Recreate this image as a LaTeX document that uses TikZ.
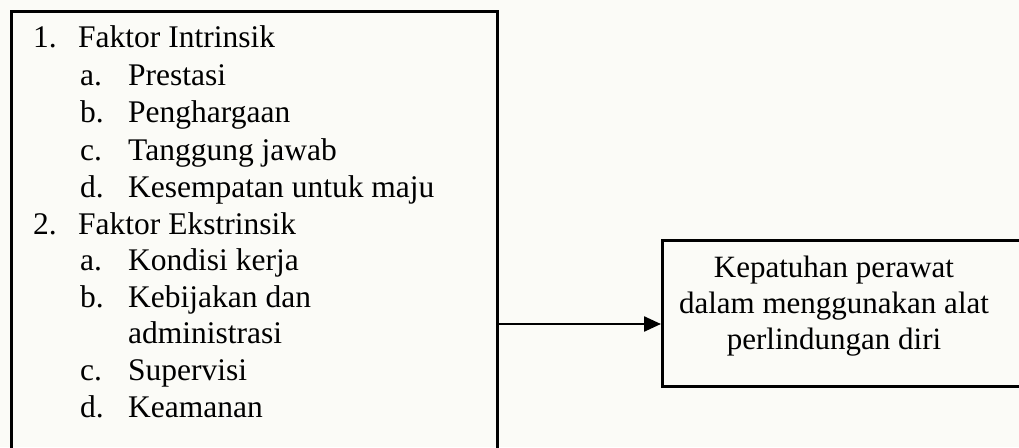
\documentclass[tikz,border=0pt]{standalone}
\usepackage{fontspec}
\setmainfont{Liberation Serif}
\usetikzlibrary{arrows.meta}
\definecolor{paper}{RGB}{251,251,247}
\tikzset{
  frame/.style={draw=black, line width=2.6pt, rectangle, inner sep=0pt, anchor=north west},
  lbl/.style={anchor=base west, inner sep=0pt, font=\fontsize{31.5}{37}\selectfont},
  ctr/.style={anchor=base, inner sep=0pt, font=\fontsize{31}{37}\selectfont},
  link/.style={draw=black, line width=2.4pt, -{Triangle[length=17pt,width=15pt]}}
}
\begin{document}
\begin{tikzpicture}[x=1pt,y=-1pt]
\useasboundingbox (0,0) rectangle (1019,447);
\fill[paper] (0,0) rectangle (1019,447);
\clip (0,0) rectangle (1019,447);

% factor list box (runs past the lower edge)
\node[frame, minimum width=486pt, minimum height=470pt] (factors) at (10,10) {};
% outcome box
\node[frame, minimum width=370pt, minimum height=146pt] (outcome) at (661,239) {};

% list entries
\node[lbl] (n1)  at (33,47)  {1.};
\node[lbl] (t1)  at (78,47)  {Faktor Intrinsik};
\node[lbl] (n1a) at (80,85)  {a.};
\node[lbl] (t1a) at (128,85) {Prestasi};
\node[lbl] (n1b) at (80,122) {b.};
\node[lbl] (t1b) at (128,122) {Penghargaan};
\node[lbl] (n1c) at (80,160) {c.};
\node[lbl] (t1c) at (128,160) {Tanggung jawab};
\node[lbl] (n1d) at (80,197) {d.};
\node[lbl] (t1d) at (128,197) {Kesempatan untuk maju};
\node[lbl] (n2)  at (33,234) {2.};
\node[lbl] (t2)  at (78,234) {Faktor Ekstrinsik};
\node[lbl] (n2a) at (80,270) {a.};
\node[lbl] (t2a) at (128,270) {Kondisi kerja};
\node[lbl] (n2b) at (80,307) {b.};
\node[lbl] (t2b) at (128,307) {Kebijakan dan};
\node[lbl] (t2b2) at (128,343) {administrasi};
\node[lbl] (n2c) at (80,380) {c.};
\node[lbl] (t2c) at (128,380) {Supervisi};
\node[lbl] (n2d) at (80,417) {d.};
\node[lbl] (t2d) at (128,417) {Keamanan};

% outcome text
\node[ctr] (o1) at (834,277) {Kepatuhan perawat};
\node[ctr] (o2) at (834,313) {dalam menggunakan alat};
\node[ctr] (o3) at (834,349) {perlindungan diri};

% connector
\coordinate (level) at (0,324);
\draw[link] (level -| factors.east) -- (level -| outcome.west);
\end{tikzpicture}
\end{document}
